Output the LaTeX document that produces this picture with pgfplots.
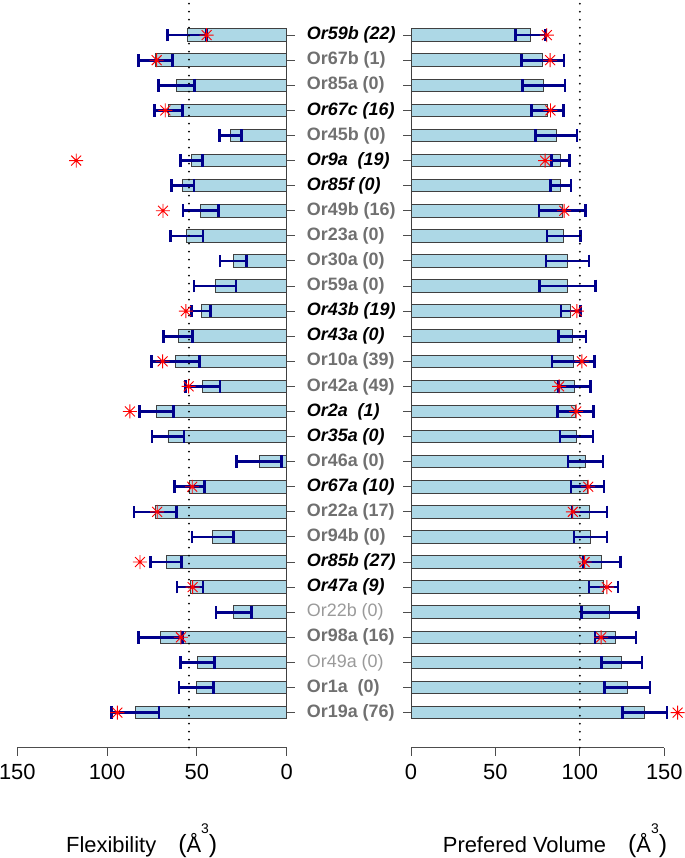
\documentclass[border=0pt]{standalone}
\usepackage{fontspec}
\setmainfont{Liberation Sans}
\usepackage{pgfplots}
\pgfplotsset{compat=1.18}
\usepackage{pgfplotstable}

\definecolor{barblue}{HTML}{ADD8E6}
\definecolor{errnavy}{HTML}{00008B}
\definecolor{labgray}{HTML}{707070}
\definecolor{labltgray}{HTML}{9A9A9A}
\definecolor{axgray}{HTML}{4D4D4D}

\pgfdeclareplotmark{rstar}{%
  \pgfpathmoveto{\pgfqpoint{-\pgfplotmarksize}{0pt}}\pgfpathlineto{\pgfqpoint{\pgfplotmarksize}{0pt}}%
  \pgfpathmoveto{\pgfqpoint{0pt}{-\pgfplotmarksize}}\pgfpathlineto{\pgfqpoint{0pt}{\pgfplotmarksize}}%
  \pgfpathmoveto{\pgfqpoint{-0.7071\pgfplotmarksize}{-0.7071\pgfplotmarksize}}\pgfpathlineto{\pgfqpoint{0.7071\pgfplotmarksize}{0.7071\pgfplotmarksize}}%
  \pgfpathmoveto{\pgfqpoint{-0.7071\pgfplotmarksize}{0.7071\pgfplotmarksize}}\pgfpathlineto{\pgfqpoint{0.7071\pgfplotmarksize}{-0.7071\pgfplotmarksize}}%
  \pgfusepathqstroke}

\newcommand{\K}[1]{{\bfseries\itshape #1}}
\newcommand{\G}[1]{{\color{labgray}\bfseries #1}}
\newcommand{\Lg}[1]{{\color{labltgray}#1}}

% Flexibility: y = row (28 = top), mean, sd
\pgfplotstableread{
y val sd
28 55.4 10.9
27 73.1 9.4
26 61.3 10.0
25 65.8 7.9
24 31.3 6.0
23 53.1 6.1
22 57.9 6.3
21 47.8 9.9
20 55.6 9.0
19 29.7 7.4
18 39.9 11.7
17 47.7 5.4
16 60.5 8.2
15 61.9 13.3
14 46.7 9.6
13 72.6 9.5
12 66.1 8.9
11 15.4 12.6
10 54.2 8.4
9 73.2 11.9
8 41.2 11.5
7 67.1 8.6
6 53.8 7.3
5 29.5 9.8
4 70.3 12.2
3 49.7 9.4
2 50.3 9.7
1 84.3 13.2
}\flexdata

\pgfplotstableread{
y val
28 44.6
27 72.4
25 67.6
23 117.2
21 68.9
17 56.1
15 69.1
14 54.6
13 87.3
10 52.6
9 72.1
7 81.7
6 52.4
4 58.9
1 94.3
}\flexstar

% Prefered volume
\pgfplotstableread{
y val sd
28 70.9 8.9
27 78.1 12.6
26 78.5 12.6
25 80.8 9.6
24 86.0 12.3
23 88.5 5.2
22 88.7 6.1
21 89.7 13.8
20 90.5 9.9
19 92.7 12.8
18 92.7 16.7
17 94.7 5.8
16 95.5 8.2
15 96.1 12.7
14 96.8 9.4
13 97.4 10.5
12 98.0 9.8
11 103.4 10.4
10 104.5 9.7
9 105.7 10.3
8 106.3 9.8
7 113.0 11.0
6 114.0 8.5
5 117.8 16.8
4 121.1 12.1
3 124.7 12.0
2 128.1 13.4
1 138.5 13.2
}\voldata

\pgfplotstableread{
y val
28 80.4
27 82.4
25 82.6
23 79.4
21 90.7
17 98.2
15 101.2
14 87.7
13 97.8
10 104.9
9 95.8
7 102.8
6 116.0
4 112.6
1 157.9
}\volstar

\pgfplotsset{
  panel/.style={
    scale only axis, height=747.7bp,
    ymin=-0.4, ymax=29.4, xmin=0, xmax=150, clip=false,
    axis x line*=bottom,
    y axis line style={draw=none},
    x axis line style={axgray, line width=0.9bp, -},
    xtick={0,50,100,150}, ytick={1,...,28},
    tick align=outside, major tick length=8bp,
    every tick/.style={axgray, line width=0.9bp},
    xticklabel style={font=\fontsize{22}{26}\selectfont, text=black, yshift=-5bp},
    /pgf/number format/assume math mode=true,
  },
  barstyle/.style={xbar, bar width=0.5, fill=barblue, draw=black!75, line width=0.9bp,
    error bars/.cd, x dir=both, x explicit, error mark=|,
    error bar style={draw=errnavy, solid, line width=2.6bp},
    error mark options={draw=errnavy, mark size=6.3bp, line width=2.6bp}},
  starstyle/.style={only marks, mark=rstar, mark size=7bp, mark options={red, line width=0.9bp}},
  dotstyle/.style={black, line width=2bp, line cap=round, dash pattern=on 0pt off 8bp},
}

\begin{document}
\begin{tikzpicture}
\useasboundingbox (0,0) rectangle (685bp,858bp);

\begin{axis}[panel, width=269.4bp, x dir=reverse, axis y line*=right,
  at={(152bp,484.15bp)}, anchor=center,
  yticklabels={\G{Or19a (76)},\G{Or1a\ \ (0)},\Lg{Or49a (0)},\G{Or98a (16)},\Lg{Or22b (0)},
    \K{Or47a (9)},\K{Or85b (27)},\G{Or94b (0)},\G{Or22a (17)},\K{Or67a (10)},
    \G{Or46a (0)},\K{Or35a (0)},\K{Or2a\ \ (1)},\G{Or42a (49)},\G{Or10a (39)},
    \K{Or43a (0)},\K{Or43b (19)},\G{Or59a (0)},\G{Or30a (0)},\G{Or23a (0)},
    \G{Or49b (16)},\K{Or85f (0)},\K{Or9a\ \ (19)},\G{Or45b (0)},\K{Or67c (16)},
    \G{Or85a (0)},\G{Or67b (1)},\K{Or59b (22)}},
  yticklabel style={font=\fontsize{18}{20}\selectfont, anchor=west, inner sep=0pt, xshift=12bp},
]
\addplot[barstyle] table[x=val, y=y, x error=sd]{\flexdata};
\addplot[dotstyle] coordinates {(54.4,-0.4) (54.4,29.4)};
\addplot[black!75, line width=0.9bp] coordinates {(0,0.75) (0,28.25)};
\addplot[starstyle] table[x=val, y=y]{\flexstar};
\end{axis}

\begin{axis}[panel, width=253.3bp, axis y line*=left,
  at={(537.65bp,484.15bp)}, anchor=center,
  yticklabels={,,},
]
\addplot[barstyle] table[x=val, y=y, x error=sd]{\voldata};
\addplot[dotstyle] coordinates {(100,-0.4) (100,29.4)};
\addplot[black!75, line width=0.9bp] coordinates {(0,0.75) (0,28.25)};
\addplot[starstyle] table[x=val, y=y]{\volstar};
\end{axis}

\node[anchor=base] at (141.7bp,6bp) {\fontsize{22}{26}\selectfont Flexibility\hspace{22bp}{\fontsize{25}{28}\selectfont(}Å\raisebox{19bp}{\fontsize{14}{16}\selectfont 3}{\fontsize{25}{28}\selectfont)}};
\node[anchor=base] at (555bp,6bp) {\fontsize{22}{26}\selectfont Prefered Volume\hspace{22bp}{\fontsize{25}{28}\selectfont(}Å\raisebox{19bp}{\fontsize{14}{16}\selectfont 3}{\fontsize{25}{28}\selectfont)}};
\end{tikzpicture}
\end{document}
